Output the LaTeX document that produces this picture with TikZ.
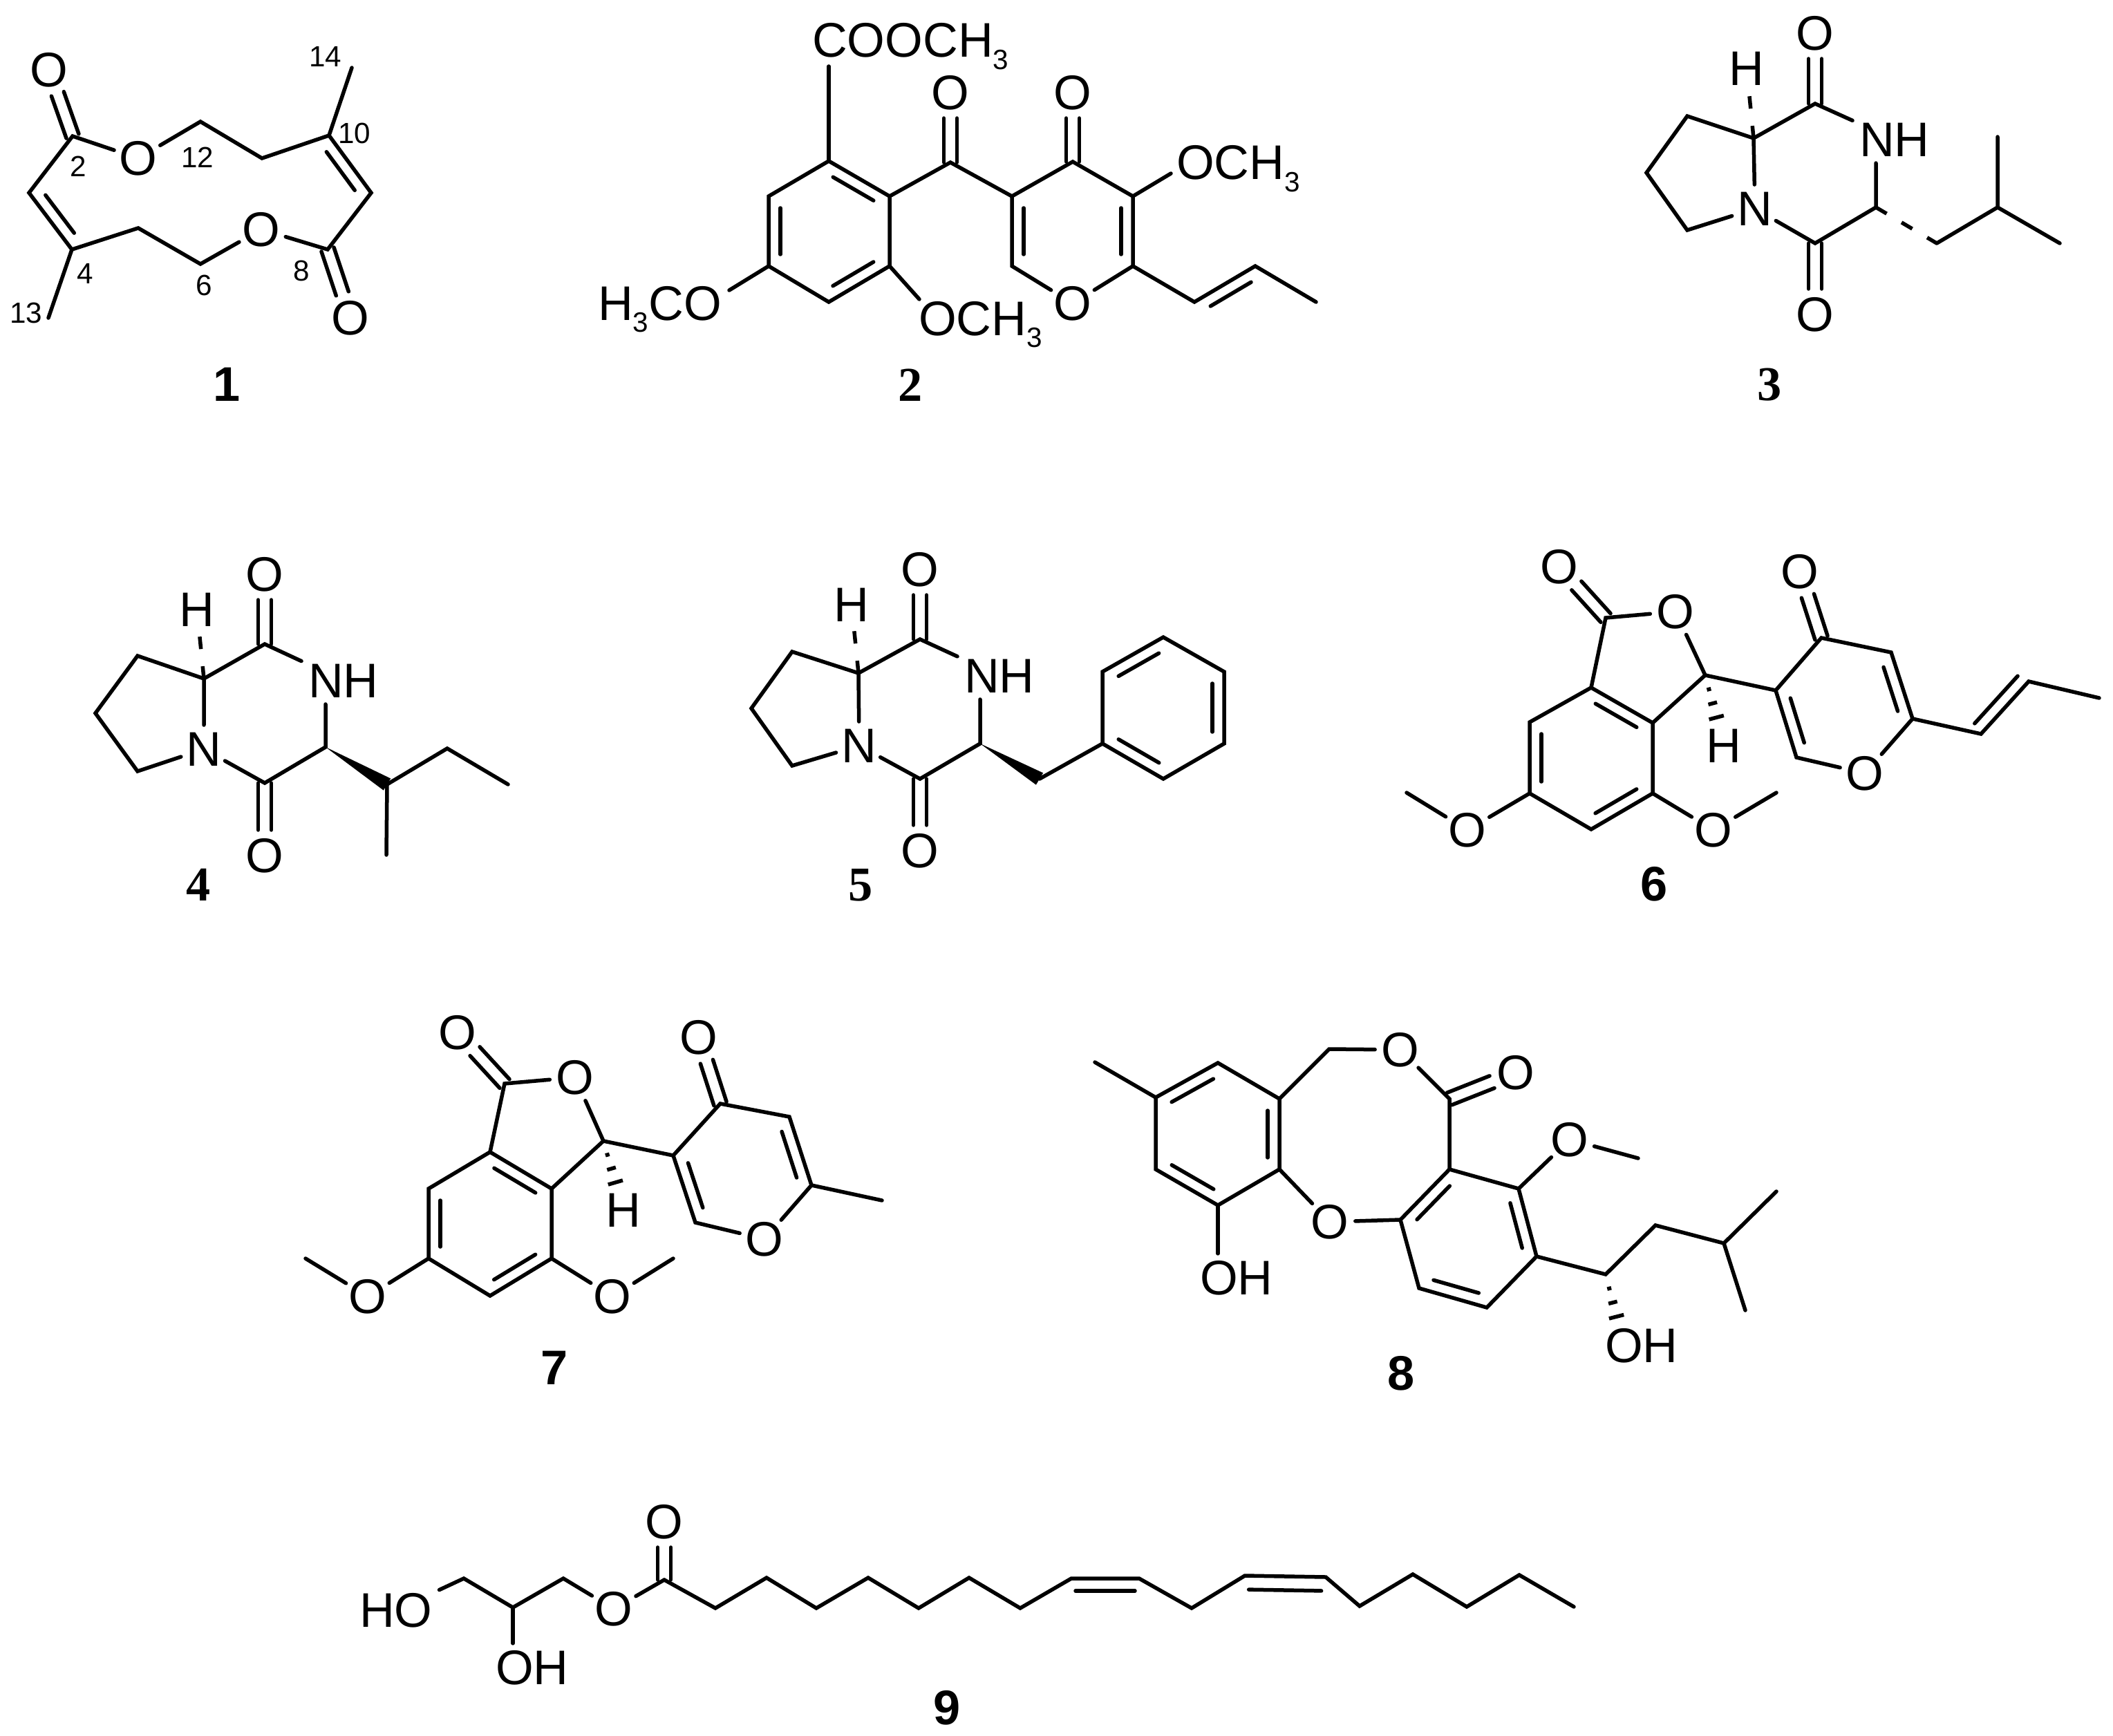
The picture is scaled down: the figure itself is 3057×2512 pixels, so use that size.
\documentclass[tikz,border=0pt]{standalone}
\usepackage{fontspec}
\usepackage{tikz}
\usetikzlibrary{calc}
\setmainfont{Liberation Sans}
\newfontfamily\serifdigits{Liberation Serif}

% lowered digit inside a formula
\newcommand{\subnum}[1]{\lower 0.17cm\hbox{\fontsize{11.5}{12}\selectfont #1}}
% second line of a double bond, left of the way #1 to #2
\newcommand{\dblat}[4]{\draw[shorten <=#4,shorten >=#4] ($(#1)!#3!90:(#2)$) -- ($(#2)!#3!-90:(#1)$);}
\newcommand{\dbl}[2]{\dblat{#1}{#2}{0.17cm}{0.17cm}}
% carbonyl, both lines off the axis
\newcommand{\cob}[2]{
\draw[shorten >=0.37cm] ($(#1)!0.095cm!90:(#2)$) -- ($(#2)!0.095cm!-90:(#1)$);
\draw[shorten >=0.37cm] ($(#1)!0.095cm!-90:(#2)$) -- ($(#2)!0.095cm!90:(#1)$);
}
% solid wedge, wide at #2
\newcommand{\wedgeb}[2]{\fill (#1) -- ($(#2)!0.1cm!90:(#1)$) -- ($(#2)!0.1cm!-90:(#1)$) -- cycle;}
% hashed wedge, wide towards #2
\newcommand{\hashb}[2]{\foreach \pos/\wid in {0.2/0.03,0.4/0.065,0.6/0.11}{
\draw[line cap=butt] ($(#1)!\pos!(#2)!\wid cm!90:(#2)$) -- ($(#1)!\pos!(#2)!\wid cm!-90:(#2)$);}}

\begin{document}
\begin{tikzpicture}[
x=0.01cm, y=-0.01cm, line width=0.055cm, line cap=round,
atomnode/.style={circle, inner sep=0pt, outer sep=0pt, font=\fontsize{20}{24}\selectfont},
groupnode/.style={rectangle, anchor=base west, inner sep=0.1cm, outer sep=0pt, font=\fontsize{20}{24}\selectfont},
numnode/.style={inner sep=0pt, font=\fontsize{12}{14}\selectfont},
sanslabel/.style={anchor=base, inner sep=0pt, font=\fontsize{20}{24}\selectfont\bfseries},
seriflabel/.style={anchor=base, inner sep=0pt, font=\fontsize{20}{24}\selectfont\serifdigits\bfseries},
dashbond/.style={line cap=butt, dash pattern=on 0.18cm off 0.25cm},
]
\useasboundingbox (0,0) rectangle (3057,2512);

% Compound 1
\coordinate (aonec2) at (105,197);
\coordinate (aonec3) at (42,279);
\coordinate (aonec4) at (104,361);
\coordinate (aonec5) at (200,330);
\coordinate (aonec6) at (290,382);
\coordinate (aonec8) at (474,361);
\coordinate (aonec9) at (537,279);
\coordinate (aonec10) at (476,196);
\coordinate (aonec11) at (379,229);
\coordinate (aonec12) at (290,176);
\coordinate (aonec13) at (70,460);
\coordinate (aonec14) at (509,98);
\node[atomnode] (aoneotop) at (71,101) {O};
\node[atomnode] (aoneoa) at (200,229) {O};
\node[atomnode] (aoneob) at (378,332) {O};
\node[atomnode] (aoneobot) at (507,460) {O};
\node[numnode] at (113,241) {2};
\node[numnode] at (123,396) {4};
\node[numnode] at (295,413) {6};
\node[numnode] at (436,392) {8};
\node[numnode] at (513,193) {10};
\node[numnode] at (286,228) {12};
\node[numnode] at (38,453) {13};
\node[numnode] at (471,82) {14};
\node[sanslabel] (labelone) at (328,580) {1};

\draw (aoneoa) -- (aonec2) -- (aonec3) -- (aonec4) -- (aonec5) -- (aonec6) -- (aoneob);
\draw (aoneob) -- (aonec8) -- (aonec9) -- (aonec10) -- (aonec11) -- (aonec12) -- (aoneoa);
\draw (aonec4) -- (aonec13);
\draw (aonec10) -- (aonec14);
\dbl{aonec3}{aonec4}
\dbl{aonec9}{aonec10}
\cob{aonec2}{aoneotop}
\cob{aonec8}{aoneobot}

% Compound 2
\coordinate (btwoa1) at (1199,233);
\coordinate (btwoa2) at (1287,284);
\coordinate (btwoa3) at (1287,385);
\coordinate (btwoa4) at (1199,437);
\coordinate (btwoa5) at (1112,385);
\coordinate (btwoa6) at (1112,284);
\coordinate (btwoco) at (1375,235);
\coordinate (btwob1) at (1464,284);
\coordinate (btwob2) at (1552,234);
\coordinate (btwob3) at (1639,284);
\coordinate (btwob4) at (1639,385);
\coordinate (btwob5) at (1464,385);
\coordinate (btwop1) at (1728,437);
\coordinate (btwop2) at (1816,385);
\coordinate (btwop3) at (1904,437);
\coordinate (btwoends) at (1199,96);
\coordinate (btwoendl) at (1055,420);
\coordinate (btwoendm) at (1330,433);
\coordinate (btwoendr) at (1694,251);
\node[groupnode] (btwoester) at (1165,83) {COOCH\subnum{3}};
\node[groupnode] (btwomeoa) at (855,463) {H\subnum{3}CO};
\node[groupnode] (btwomeob) at (1319,485) {OCH\subnum{3}};
\node[groupnode] (btwomeoc) at (1692,260) {OCH\subnum{3}};
\node[atomnode] (btwooa) at (1375,134) {O};
\node[atomnode] (btwoob) at (1552,134) {O};
\node[atomnode] (btwooring) at (1552,439) {O};
\node[seriflabel] (labeltwo) at (1317,580) {2};

\draw (btwoa1) -- (btwoa2) -- (btwoa3) -- (btwoa4) -- (btwoa5) -- (btwoa6) -- cycle;
\draw (btwoa1) -- (btwoends);
\draw (btwoa5) -- (btwoendl);
\draw (btwoa3) -- (btwoendm);
\draw (btwoa2) -- (btwoco) -- (btwob1) -- (btwob2) -- (btwob3) -- (btwob4) -- (btwooring);
\draw (btwooring) -- (btwob5) -- (btwob1);
\draw (btwob3) -- (btwoendr);
\draw (btwob4) -- (btwop1) -- (btwop2) -- (btwop3);
\dbl{btwoa2}{btwoa1}
\dbl{btwoa4}{btwoa3}
\dbl{btwoa6}{btwoa5}
\dbl{btwob1}{btwob5}
\dbl{btwob4}{btwob3}
\dbl{btwop2}{btwop1}
\cob{btwoco}{btwooa}
\cob{btwob2}{btwoob}

% Compound 3
\coordinate (cthreea) at (2537,200);
\coordinate (cthreeb) at (2441,168);
\coordinate (cthreec) at (2382,250);
\coordinate (cthreed) at (2441,333);
\coordinate (cthreeco) at (2626,150);
\coordinate (cthreecp) at (2626,352);
\coordinate (cthreee) at (2714,300);
\coordinate (cthreef) at (2802,352);
\coordinate (cthreeg) at (2890,300);
\coordinate (cthreeh) at (2890,198);
\coordinate (cthreei) at (2980,352);
\node[atomnode] (cthreen) at (2539,302) {N};
\node[atomnode] (cthreeotop) at (2626,48) {O};
\node[atomnode] (cthreeobot) at (2626,455) {O};
\node[atomnode] (cthreehyd) at (2527,99) {H};
\node[groupnode] (cthreenh) at (2680,226) {NH};
\node[seriflabel] (labelthree) at (2560,579) {3};

\draw (cthreen) -- (cthreea) -- (cthreeb) -- (cthreec) -- (cthreed) -- (cthreen);
\draw (cthreea) -- (cthreeco) -- (cthreenh);
\draw (cthreen) -- (cthreecp) -- (cthreee) -- (cthreee |- cthreenh.south);
\draw[dashbond] (cthreea) -- (cthreehyd);
\draw[dashbond] (cthreee) -- (cthreef);
\draw (cthreef) -- (cthreeg) -- (cthreeh);
\draw (cthreeg) -- (cthreei);
\cob{cthreeco}{cthreeotop}
\cob{cthreecp}{cthreeobot}

% Compound 4
\coordinate (dfoura) at (295,982);
\coordinate (dfourb) at (199,949);
\coordinate (dfourc) at (138,1032);
\coordinate (dfourd) at (199,1116);
\coordinate (dfourco) at (383,932);
\coordinate (dfourcp) at (383,1133);
\coordinate (dfoure) at (471,1081);
\coordinate (dfourf) at (560,1135);
\coordinate (dfourg) at (647,1083);
\coordinate (dfourh) at (735,1135);
\coordinate (dfouri) at (559,1237);
\node[atomnode] (dfourn) at (295,1084) {N};
\node[atomnode] (dfourotop) at (383,831) {O};
\node[atomnode] (dfourobot) at (383,1238) {O};
\node[atomnode] (dfourhyd) at (285,882) {H};
\node[groupnode] (dfournh) at (436,1009) {NH};
\node[seriflabel] (labelfour) at (287,1303) {4};

\draw (dfourn) -- (dfoura) -- (dfourb) -- (dfourc) -- (dfourd) -- (dfourn);
\draw (dfoura) -- (dfourco) -- (dfournh);
\draw (dfourn) -- (dfourcp) -- (dfoure) -- (dfoure |- dfournh.south);
\draw[dashbond] (dfoura) -- (dfourhyd);
\wedgeb{dfoure}{dfourf}
\draw (dfourf) -- (dfourg) -- (dfourh);
\draw (dfourf) -- (dfouri);
\cob{dfourco}{dfourotop}
\cob{dfourcp}{dfourobot}

% Compound 5
\coordinate (efivea) at (1242,974);
\coordinate (efiveb) at (1146,943);
\coordinate (efivec) at (1087,1025);
\coordinate (efived) at (1146,1108);
\coordinate (efiveco) at (1331,925);
\coordinate (efivecp) at (1331,1127);
\coordinate (efivee) at (1418,1076);
\coordinate (efivef) at (1504,1127);
\coordinate (efiver1) at (1595,1076);
\coordinate (efiver2) at (1595,972);
\coordinate (efiver3) at (1683,922);
\coordinate (efiver4) at (1771,972);
\coordinate (efiver5) at (1771,1076);
\coordinate (efiver6) at (1683,1127);
\node[atomnode] (efiven) at (1243,1079) {N};
\node[atomnode] (efiveotop) at (1331,824) {O};
\node[atomnode] (efiveobot) at (1331,1231) {O};
\node[atomnode] (efivehyd) at (1232,875) {H};
\node[groupnode] (efivenh) at (1385,1002) {NH};
\node[seriflabel] (labelfive) at (1245,1303) {5};

\draw (efiven) -- (efivea) -- (efiveb) -- (efivec) -- (efived) -- (efiven);
\draw (efivea) -- (efiveco) -- (efivenh);
\draw (efiven) -- (efivecp) -- (efivee) -- (efivee |- efivenh.south);
\draw[dashbond] (efivea) -- (efivehyd);
\wedgeb{efivee}{efivef}
\draw (efivef) -- (efiver1);
\draw (efiver1) -- (efiver2) -- (efiver3) -- (efiver4) -- (efiver5) -- (efiver6) -- cycle;
\dbl{efiver3}{efiver2}
\dbl{efiver5}{efiver4}
\dbl{efiver1}{efiver6}
\cob{efiveco}{efiveotop}
\cob{efivecp}{efiveobot}

% Compound 6
\coordinate (fsixa1) at (2302,995);
\coordinate (fsixa2) at (2391,1046);
\coordinate (fsixa3) at (2391,1148);
\coordinate (fsixa4) at (2302,1200);
\coordinate (fsixa5) at (2213,1148);
\coordinate (fsixa6) at (2213,1045);
\coordinate (fsixco) at (2323,894);
\coordinate (fsixch) at (2467,977);
\coordinate (fsixb1) at (2569,999);
\coordinate (fsixb2) at (2635,923);
\coordinate (fsixb3) at (2736,944);
\coordinate (fsixb4) at (2767,1040);
\coordinate (fsixb5) at (2599,1096);
\coordinate (fsixp1) at (2866,1062);
\coordinate (fsixp2) at (2935,986);
\coordinate (fsixp3) at (3037,1010);
\coordinate (fsixmea) at (2035,1147);
\coordinate (fsixmeb) at (2570,1147);
\node[atomnode] (fsixotop) at (2256,820) {O};
\node[atomnode] (fsixoring) at (2424,885) {O};
\node[atomnode] (fsixoket) at (2604,827) {O};
\node[atomnode] (fsixopyr) at (2698,1119) {O};
\node[atomnode] (fsixoa) at (2123,1201) {O};
\node[atomnode] (fsixob) at (2479,1201) {O};
\node[atomnode] (fsixhyd) at (2494,1079) {H};
\node[sanslabel] (labelsix) at (2393,1303) {6};

\draw (fsixa1) -- (fsixa2) -- (fsixa3) -- (fsixa4) -- (fsixa5) -- (fsixa6) -- cycle;
\draw (fsixa1) -- (fsixco) -- (fsixoring) -- (fsixch) -- (fsixa2);
\draw (fsixch) -- (fsixb1) -- (fsixb2) -- (fsixb3) -- (fsixb4) -- (fsixopyr) -- (fsixb5) -- (fsixb1);
\draw (fsixb4) -- (fsixp1) -- (fsixp2) -- (fsixp3);
\draw (fsixa5) -- (fsixoa) -- (fsixmea);
\draw (fsixa3) -- (fsixob) -- (fsixmeb);
\dbl{fsixa2}{fsixa1}
\dbl{fsixa4}{fsixa3}
\dbl{fsixa6}{fsixa5}
\dbl{fsixb1}{fsixb5}
\dbl{fsixb4}{fsixb3}
\dblat{fsixp1}{fsixp2}{0.17cm}{0.05cm}
\cob{fsixco}{fsixotop}
\cob{fsixb2}{fsixoket}
\hashb{fsixch}{fsixhyd}

% Compound 7
\coordinate (gsevena1) at (709,1667);
\coordinate (gsevena2) at (798,1720);
\coordinate (gsevena3) at (798,1821);
\coordinate (gsevena4) at (709,1875);
\coordinate (gsevena5) at (620,1821);
\coordinate (gsevena6) at (620,1720);
\coordinate (gsevenco) at (730,1568);
\coordinate (gsevench) at (873,1651);
\coordinate (gsevenb1) at (974,1672);
\coordinate (gsevenb2) at (1042,1597);
\coordinate (gsevenb3) at (1142,1616);
\coordinate (gsevenb4) at (1174,1715);
\coordinate (gsevenb5) at (1006,1769);
\coordinate (gsevenme) at (1276,1737);
\coordinate (gsevenmea) at (442,1821);
\coordinate (gsevenmeb) at (974,1821);
\node[atomnode] (gsevenotop) at (662,1494) {O};
\node[atomnode] (gsevenoring) at (832,1559) {O};
\node[atomnode] (gsevenoket) at (1011,1501) {O};
\node[atomnode] (gsevenopyr) at (1106,1793) {O};
\node[atomnode] (gsevenoa) at (532,1876) {O};
\node[atomnode] (gsevenob) at (886,1876) {O};
\node[atomnode] (gsevenhyd) at (902,1751) {H};
\node[sanslabel] (labelseven) at (802,2003) {7};

\draw (gsevena1) -- (gsevena2) -- (gsevena3) -- (gsevena4) -- (gsevena5) -- (gsevena6) -- cycle;
\draw (gsevena1) -- (gsevenco) -- (gsevenoring) -- (gsevench) -- (gsevena2);
\draw (gsevench) -- (gsevenb1) -- (gsevenb2) -- (gsevenb3) -- (gsevenb4) -- (gsevenopyr) -- (gsevenb5) -- (gsevenb1);
\draw (gsevenb4) -- (gsevenme);
\draw (gsevena5) -- (gsevenoa) -- (gsevenmea);
\draw (gsevena3) -- (gsevenob) -- (gsevenmeb);
\dbl{gsevena2}{gsevena1}
\dbl{gsevena4}{gsevena3}
\dbl{gsevena6}{gsevena5}
\dbl{gsevenb1}{gsevenb5}
\dbl{gsevenb4}{gsevenb3}
\cob{gsevenco}{gsevenotop}
\cob{gsevenb2}{gsevenoket}
\hashb{gsevench}{gsevenhyd}

% Compound 8
\coordinate (heightme) at (1584,1537);
\coordinate (heightr1) at (1672,1588);
\coordinate (heightr2) at (1762,1538);
\coordinate (heightr3) at (1851,1590);
\coordinate (heightr4) at (1851,1692);
\coordinate (heightr5) at (1762,1744);
\coordinate (heightr6) at (1672,1692);
\coordinate (heightch) at (1923,1518);
\coordinate (heightco) at (2097,1590);
\coordinate (heights1) at (2097,1692);
\coordinate (heights2) at (2197,1720);
\coordinate (heights3) at (2223,1818);
\coordinate (heights4) at (2151,1892);
\coordinate (heights5) at (2053,1864);
\coordinate (heights6) at (2026,1765);
\coordinate (heightmeo) at (2370,1676);
\coordinate (heightt1) at (2323,1844);
\coordinate (heightt2) at (2395,1773);
\coordinate (heightt3) at (2494,1799);
\coordinate (heightt4) at (2570,1724);
\coordinate (heightt5) at (2525,1896);
\coordinate (heighthash) at (2349,1946);
\node[atomnode] (heightoa) at (2026,1519) {O};
\node[atomnode] (heightob) at (2193,1552) {O};
\node[atomnode] (heightoc) at (1924,1768) {O};
\node[atomnode] (heightod) at (2271,1649) {O};
\node[groupnode] (heightoha) at (1726,1873) {OH};
\node[groupnode] (heightohb) at (2312,1971) {OH};
\node[sanslabel] (labeleight) at (2027,2011) {8};

\draw (heightme) -- (heightr1);
\draw (heightr1) -- (heightr2) -- (heightr3) -- (heightr4) -- (heightr5) -- (heightr6) -- cycle;
\draw (heightr5) -- (heightr5 |- heightoha.north);
\draw (heightr3) -- (heightch) -- (heightoa) -- (heightco) -- (heights1);
\draw (heightr4) -- (heightoc) -- (heights6);
\draw (heights1) -- (heights2) -- (heights3) -- (heights4) -- (heights5) -- (heights6) -- cycle;
\draw (heights2) -- (heightod) -- (heightmeo);
\draw (heights3) -- (heightt1) -- (heightt2) -- (heightt3) -- (heightt4);
\draw (heightt3) -- (heightt5);
\dbl{heightr2}{heightr1}
\dbl{heightr4}{heightr3}
\dbl{heightr6}{heightr5}
\dbl{heights1}{heights6}
\dbl{heights3}{heights2}
\dbl{heights5}{heights4}
\cob{heightco}{heightob}
\hashb{heightt1}{heighthash}

% Compound 9
\coordinate (inineg1) at (671,2284);
\coordinate (inineg2) at (742,2326);
\coordinate (inineg3) at (815,2284);
\coordinate (ininec1) at (961,2286);
\coordinate (ininec2) at (1035,2327);
\coordinate (ininec3) at (1109,2283);
\coordinate (ininec4) at (1181,2327);
\coordinate (ininec5) at (1256,2283);
\coordinate (ininec6) at (1329,2327);
\coordinate (ininec7) at (1402,2283);
\coordinate (ininec8) at (1476,2327);
\coordinate (ininec9) at (1550,2284);
\coordinate (ininec10) at (1648,2284);
\coordinate (ininec11) at (1724,2327);
\coordinate (ininec12) at (1801,2280);
\coordinate (ininec13) at (1918,2282);
\coordinate (ininec14) at (1967,2324);
\coordinate (ininec15) at (2044,2278);
\coordinate (ininec16) at (2122,2325);
\coordinate (ininec17) at (2198,2279);
\coordinate (ininec18) at (2277,2325);
\node[groupnode] (inineoha) at (510,2354) {HO};
\node[groupnode] (inineohb) at (707,2437) {OH};
\node[atomnode] (ininee) at (888,2328) {O};
\node[atomnode] (inineotop) at (961,2202) {O};
\node[sanslabel] (labelnine) at (1370,2495) {9};

\draw (inineoha) -- (inineg1) -- (inineg2) -- (inineg3) -- (ininee) -- (ininec1);
\draw (inineg2) -- (inineg2 |- inineohb.north);
\draw (ininec1) -- (ininec2) -- (ininec3) -- (ininec4) -- (ininec5) -- (ininec6) -- (ininec7) -- (ininec8) -- (ininec9) -- (ininec10) -- (ininec11) -- (ininec12) -- (ininec13) -- (ininec14) -- (ininec15) -- (ininec16) -- (ininec17) -- (ininec18);
\dblat{ininec10}{ininec9}{0.18cm}{0.06cm}
\dblat{ininec13}{ininec12}{0.2cm}{0.06cm}
\cob{ininec1}{inineotop}
\end{tikzpicture}
\end{document}
